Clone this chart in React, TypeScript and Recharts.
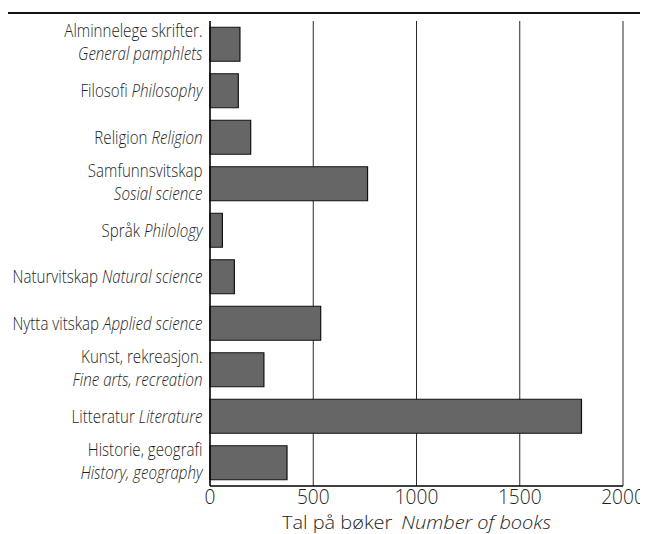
import React from "react";
import { BarChart, Bar, XAxis, YAxis, CartesianGrid } from "recharts";

const categoriesNo = [
  "Alminnelege skrifter.",
  "Filosofi",
  "Religion",
  "Samfunnsvitskap",
  "Språk",
  "Naturvitskap",
  "Nytta vitskap",
  "Kunst, rekreasjon.",
  "Litteratur",
  "Historie, geografi",
];
const categoriesEn = [
  "General pamphlets",
  "Philosophy",
  "Religion",
  "Sosial science",
  "Philology",
  "Natural science",
  "Applied science",
  "Fine arts, recreation",
  "Literature",
  "History, geography",
];
const twoLine = [true, false, false, true, false, false, false, true, false, true];
const books = [145, 137, 197, 763, 60, 118, 536, 261, 1799, 373];
const xTicks = [0, 500, 1000, 1500, 2000];
const axisTitleNo = "Tal på bøker";
const axisTitleEn = "Number of books";

const data = categoriesNo.map((no, i) => ({ key: `c${i}`, books: books[i] }));

const FONT = "'Open Sans', 'Noto Sans', sans-serif";
const TEXT = "#1e1e1e";
const W = 300;

const YTick = (props: any) => {
  const { x, y, payload } = props;
  const i = payload.index;
  const no = categoriesNo[i];
  const en = categoriesEn[i];
  return (
    <g transform={`translate(${x - 7.5},${y}) scale(0.84,1)`}>
      {twoLine[i] ? (
        <>
          <text x={0} y={-7} textAnchor="end" fontSize={18} fontWeight={W} fontFamily={FONT} fill={TEXT}>
            {no}
          </text>
          <text x={0} y={16} textAnchor="end" fontSize={18} fontWeight={W} fontFamily={FONT} fill={TEXT} fontStyle="italic">
            {en}
          </text>
        </>
      ) : (
        <text x={0} y={6.5} textAnchor="end" fontSize={18} fontWeight={W} fontFamily={FONT} fill={TEXT}>
          <tspan>{no} </tspan>
          <tspan fontStyle="italic">{en}</tspan>
        </text>
      )}
    </g>
  );
};

const XTick = (props: any) => {
  const { x, y, payload } = props;
  return (
    <g transform={`translate(${x},${y + 17.5}) scale(0.98,1)`}>
      <text x={0} y={0} textAnchor="middle" fontSize={19.5} fontWeight={W} fontFamily={FONT} fill={TEXT}>
        {payload.value}
      </text>
    </g>
  );
};

const XTitle = (props: any) => {
  const { viewBox } = props;
  const cx = viewBox.x + viewBox.width / 2;
  const y = viewBox.y + 42.5;
  return (
    <g transform={`translate(${cx},${y}) scale(1.11,1)`}>
      <text x={0} y={0} textAnchor="middle" fontSize={18} fontWeight={W} fontFamily={FONT} fill={TEXT}>
        <tspan>{axisTitleNo}</tspan>
        <tspan dx={8} fontStyle="italic">{axisTitleEn}</tspan>
      </text>
    </g>
  );
};

export default function App() {
  return (
    <div style={{ position: "relative", width: 640, height: 526 }}>
      <BarChart
        width={640}
        height={526}
        data={data}
        layout="vertical"
        margin={{ top: 13, right: 25, left: 0, bottom: 0 }}
        barCategoryGap="13.4%"
      >
        <CartesianGrid horizontal={false} vertical={true} stroke="#2a2a2a" strokeWidth={1} />
        <XAxis
          type="number"
          domain={[0, 2000]}
          ticks={xTicks}
          height={48}
          tickLine={false}
          tickSize={0}
          tickMargin={0}
          axisLine={{ stroke: "#000", strokeWidth: 1.3 }}
          tick={<XTick />}
          label={<XTitle />}
          interval={0}
        />
        <YAxis
          type="category"
          dataKey="key"
          width={202}
          tickLine={false}
          tickSize={0}
          tickMargin={0}
          axisLine={{ stroke: "#000", strokeWidth: 1.3 }}
          tick={<YTick />}
          interval={0}
        />
        <Bar dataKey="books" fill="#666666" stroke="#111" strokeWidth={1.2} isAnimationActive={false} />
      </BarChart>
      <div
        style={{
          position: "absolute",
          left: -1,
          top: 4,
          width: 640,
          height: 0,
          borderTop: "2px solid #111",
        }}
      />
    </div>
  );
}
